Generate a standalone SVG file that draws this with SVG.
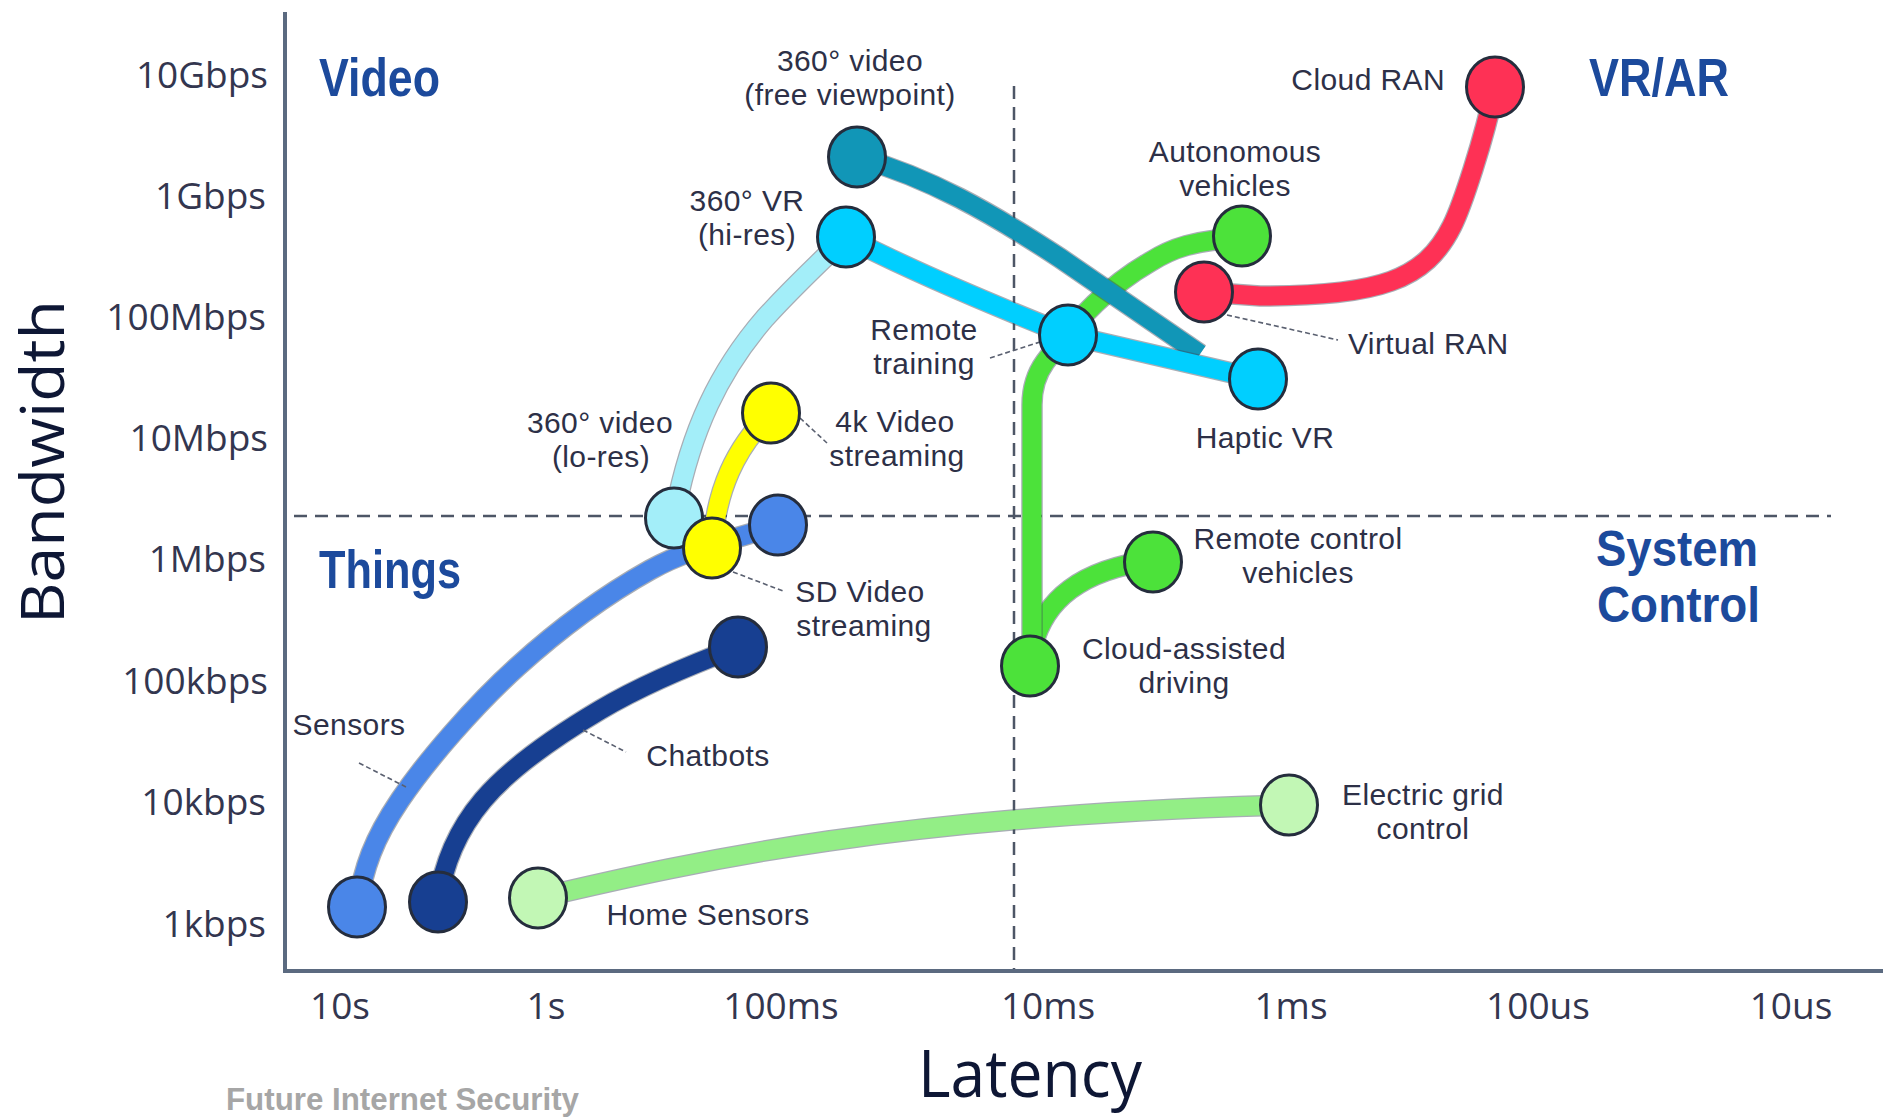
<svg xmlns="http://www.w3.org/2000/svg" width="1883" height="1117" viewBox="0 0 1883 1117">
  <style>
    text { font-family: "Open Sans", "Noto Sans", "DejaVu Sans", sans-serif; fill: #2d3047; }
    .lbl { font-family: "Liberation Sans", "Open Sans", sans-serif; font-size: 30px; letter-spacing: 0.4px; text-anchor: middle; }
    .tick { font-size: 37px; fill: #33364f; }
    .ytick { text-anchor: end; }
    .xtick { text-anchor: middle; }
    .head { font-family: "Liberation Sans", "Open Sans", sans-serif; font-size: 54px; font-weight: 700; fill: #1c4a9c; }
    .title { font-size: 60px; fill: #0e1735; text-anchor: middle; }
    .axis { stroke: #5b6a80; stroke-width: 4; fill: none; }
    .grid { stroke: #4d5666; stroke-width: 2.5; stroke-dasharray: 13 8; fill: none; }
    .lead { stroke: #5a6070; stroke-width: 1.6; stroke-dasharray: 5 3; fill: none; }
    .edge-o { fill: none; stroke: #3d4a5c; stroke-opacity: 0.45; stroke-width: 21.5; }
    .edge { fill: none; stroke-width: 19; }
    .node { stroke: #252d3d; stroke-width: 3; }
  </style>

  <defs>
    <path id="p-green-main" d="M1032,666 L1032,405 Q1032,380 1045,362 C1075,320 1110,285 1150,262 C1172,248 1195,240 1242,238"/>
    <path id="p-green-branch" d="M1033,645 C1045,600 1080,570 1153,560"/>
    <path id="p-teal" d="M857,157 C930,178 990,212 1060,258 L1200,354"/>
    <path id="p-cyan" d="M846,237 C900,265 980,300 1068,335 L1258,379"/>
    <path id="p-lightcyan" d="M674,518 C690,430 720,370 765,318 C795,285 820,262 846,237"/>
    <path id="p-yellow" d="M712,548 C716,490 735,448 771,413"/>
    <path id="p-red" d="M1204,292 L1260,296 C1380,296 1425,280 1452,226 C1462,206 1484,140 1495,87"/>
    <path id="p-sensors" d="M357,907 C364,867 373,840 400,800 C427,760 475,705 517,667 C559,629 607,594 650,570 C693,546 735,540 778,525"/>
    <path id="p-chatbots" d="M438,902 C443,865 456,832 483,800 C510,768 558,735 600,710 C642,685 698,662 738,647"/>
    <path id="p-home" d="M538,898 C700,860 900,815 1289,805"/>
  </defs>

  <rect width="1883" height="1117" fill="#ffffff"/>

  <!-- axes and quadrant dividers -->
  <g id="axes">
    <line class="axis" x1="285" y1="12" x2="285" y2="971"/>
    <line class="axis" x1="283" y1="971" x2="1883" y2="971"/>
    <line class="grid" x1="294" y1="516" x2="1831" y2="516"/>
    <line class="grid" x1="1014" y1="86" x2="1014" y2="969"/>

    <text class="tick ytick" x="268" y="88">10Gbps</text>
    <text class="tick ytick" x="266" y="209">1Gbps</text>
    <text class="tick ytick" x="266" y="330">100Mbps</text>
    <text class="tick ytick" x="268" y="451">10Mbps</text>
    <text class="tick ytick" x="266" y="572">1Mbps</text>
    <text class="tick ytick" x="268" y="694">100kbps</text>
    <text class="tick ytick" x="266" y="815">10kbps</text>
    <text class="tick ytick" x="266" y="937">1kbps</text>

    <text class="tick xtick" x="340" y="1019">10s</text>
    <text class="tick xtick" x="546" y="1019">1s</text>
    <text class="tick xtick" x="781" y="1019">100ms</text>
    <text class="tick xtick" x="1048" y="1019">10ms</text>
    <text class="tick xtick" x="1291" y="1019">1ms</text>
    <text class="tick xtick" x="1538" y="1019">100us</text>
    <text class="tick xtick" x="1791" y="1019">10us</text>

    <text class="title" x="1030" y="1097" style="font-size:66px" textLength="224" lengthAdjust="spacingAndGlyphs">Latency</text>
    <text class="title" transform="translate(64,462) rotate(-90)" textLength="324" lengthAdjust="spacingAndGlyphs">Bandwidth</text>
  </g>

  <!-- quadrant headings -->
  <g id="quadrants">
    <text class="head" x="319" y="96" textLength="121" lengthAdjust="spacingAndGlyphs">Video</text>
    <text class="head" x="1589" y="96" textLength="140" lengthAdjust="spacingAndGlyphs">VR/AR</text>
    <text class="head" x="319" y="588" textLength="142" lengthAdjust="spacingAndGlyphs">Things</text>
    <text class="head" style="font-size:50px"><tspan x="1596" y="566" textLength="162" lengthAdjust="spacingAndGlyphs">System</tspan><tspan x="1597" y="622" textLength="163" lengthAdjust="spacingAndGlyphs">Control</tspan></text>
  </g>

  <!-- connectors -->
  <g id="connectors">
    <use href="#p-home" class="edge-o"/>
    <use href="#p-home" class="edge" stroke="#93ee86"/>
    <use href="#p-sensors" class="edge-o"/>
    <use href="#p-sensors" class="edge" stroke="#4a86e8"/>
    <use href="#p-chatbots" class="edge-o"/>
    <use href="#p-chatbots" class="edge" stroke="#173f91"/>
    <use href="#p-lightcyan" class="edge-o"/>
    <use href="#p-lightcyan" class="edge" stroke="#a3eef9"/>
    <use href="#p-yellow" class="edge-o"/>
    <use href="#p-yellow" class="edge" stroke="#ffff00"/>
    <use href="#p-green-branch" class="edge-o"/>
    <use href="#p-green-branch" class="edge" stroke="#4ce23a"/>
    <use href="#p-green-main" class="edge-o"/>
    <use href="#p-green-main" class="edge" stroke="#4ce23a"/>
    <use href="#p-teal" class="edge-o"/>
    <use href="#p-teal" class="edge" stroke="#1196b7"/>
    <use href="#p-cyan" class="edge-o"/>
    <use href="#p-cyan" class="edge" stroke="#00cfff"/>
    <use href="#p-red" class="edge-o"/>
    <use href="#p-red" class="edge" stroke="#fe3155"/>
  </g>

  <!-- nodes -->
  <g id="n-free-viewpoint">
    <ellipse class="node" cx="857" cy="157" rx="28.5" ry="30" fill="#1196b7"/>
    <text class="lbl"><tspan x="850" y="71">360° video</tspan><tspan x="850" y="105">(free viewpoint)</tspan></text>
  </g>
  <g id="n-vr-hires">
    <ellipse class="node" cx="846" cy="237" rx="28.5" ry="30" fill="#00cfff"/>
    <text class="lbl"><tspan x="747" y="211">360° VR</tspan><tspan x="747" y="245">(hi-res)</tspan></text>
  </g>
  <g id="n-remote-training">
    <line class="lead" x1="990" y1="358" x2="1040" y2="342"/>
    <ellipse class="node" cx="1068" cy="335" rx="28.5" ry="30" fill="#00cfff"/>
    <text class="lbl"><tspan x="924" y="340">Remote</tspan><tspan x="924" y="374">training</tspan></text>
  </g>
  <g id="n-haptic-vr">
    <ellipse class="node" cx="1258" cy="379" rx="28.5" ry="30" fill="#00cfff"/>
    <text class="lbl" x="1265" y="448">Haptic VR</text>
  </g>
  <g id="n-cloud-ran">
    <ellipse class="node" cx="1495" cy="87" rx="28.5" ry="30" fill="#fe3155"/>
    <text class="lbl" x="1445" y="90" style="text-anchor:end">Cloud RAN</text>
  </g>
  <g id="n-virtual-ran">
    <line class="lead" x1="1227" y1="315" x2="1338" y2="340"/>
    <ellipse class="node" cx="1204" cy="292" rx="28.5" ry="30" fill="#fe3155"/>
    <text class="lbl" x="1348" y="354" style="text-anchor:start">Virtual RAN</text>
  </g>
  <g id="n-autonomous">
    <ellipse class="node" cx="1242" cy="236" rx="28.5" ry="30" fill="#4ce23a"/>
    <text class="lbl"><tspan x="1235" y="162">Autonomous</tspan><tspan x="1235" y="196">vehicles</tspan></text>
  </g>
  <g id="n-remote-control">
    <ellipse class="node" cx="1153" cy="562" rx="28.5" ry="30" fill="#4ce23a"/>
    <text class="lbl"><tspan x="1298" y="549">Remote control</tspan><tspan x="1298" y="583">vehicles</tspan></text>
  </g>
  <g id="n-cloud-driving">
    <ellipse class="node" cx="1030" cy="666" rx="28.5" ry="30" fill="#4ce23a"/>
    <text class="lbl"><tspan x="1184" y="659">Cloud-assisted</tspan><tspan x="1184" y="693">driving</tspan></text>
  </g>
  <g id="n-electric-grid">
    <ellipse class="node" cx="1289" cy="805" rx="28.5" ry="30" fill="#c2f7b5"/>
    <text class="lbl"><tspan x="1423" y="805">Electric grid</tspan><tspan x="1423" y="839">control</tspan></text>
  </g>
  <g id="n-home-sensors">
    <ellipse class="node" cx="538" cy="898" rx="28.5" ry="30" fill="#c2f7b5"/>
    <text class="lbl" x="708" y="925">Home Sensors</text>
  </g>
  <g id="n-sensors">
    <line class="lead" x1="359" y1="763" x2="406" y2="787"/>
    <ellipse class="node" cx="357" cy="907" rx="28.5" ry="30" fill="#4a86e8"/>
    <text class="lbl" x="349" y="735">Sensors</text>
  </g>
  <g id="n-sensors-top">
    <ellipse class="node" cx="778" cy="525" rx="28.5" ry="30" fill="#4a86e8"/>
  </g>
  <g id="n-chatbots">
    <line class="lead" x1="583" y1="730" x2="626" y2="752"/>
    <ellipse class="node" cx="438" cy="902" rx="28.5" ry="30" fill="#173f91"/>
    <text class="lbl" x="708" y="766">Chatbots</text>
  </g>
  <g id="n-chatbots-top">
    <ellipse class="node" cx="738" cy="647" rx="28.5" ry="30" fill="#173f91"/>
  </g>
  <g id="n-video-lores">
    <ellipse class="node" cx="674" cy="518" rx="28.5" ry="30" fill="#a3eef9"/>
    <text class="lbl"><tspan x="600" y="433">360° video</tspan><tspan x="601" y="467">(lo-res)</tspan></text>
  </g>
  <g id="n-4k-video">
    <line class="lead" x1="800" y1="418" x2="827" y2="443"/>
    <ellipse class="node" cx="771" cy="413" rx="28.5" ry="30" fill="#ffff00"/>
    <text class="lbl"><tspan x="895" y="432">4k Video</tspan><tspan x="897" y="466">streaming</tspan></text>
  </g>
  <g id="n-sd-video">
    <line class="lead" x1="733" y1="572" x2="783" y2="591"/>
    <ellipse class="node" cx="712" cy="548" rx="28.5" ry="30" fill="#ffff00"/>
    <text class="lbl"><tspan x="860" y="602">SD Video</tspan><tspan x="864" y="636">streaming</tspan></text>
  </g>

  <text x="226" y="1110" font-size="32" font-weight="700" style="font-family:'Liberation Sans','DejaVu Sans',sans-serif;fill:#a6a6a6" textLength="353" lengthAdjust="spacingAndGlyphs">Future Internet Security</text>
</svg>
